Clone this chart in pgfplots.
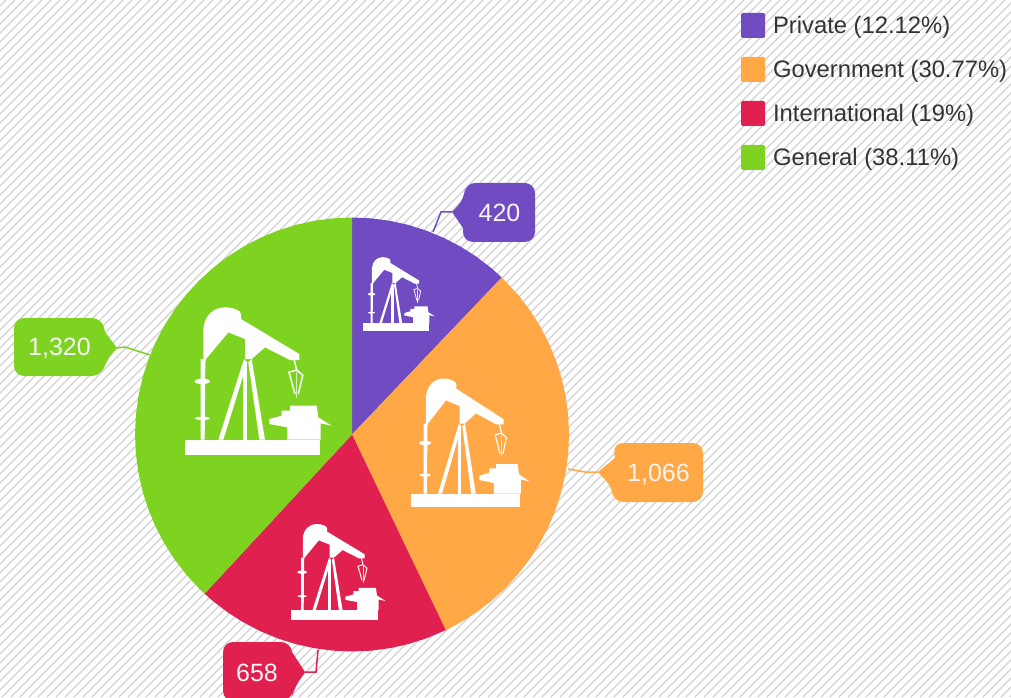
\documentclass[border=0pt]{standalone}
\usepackage{pgfplots}
\pgfplotsset{compat=1.18}
\usepackage{fontspec}
\setmainfont{Liberation Sans}
\definecolor{cPriv}{HTML}{704BC2}
\definecolor{cGov}{HTML}{FFA845}
\definecolor{cInt}{HTML}{E0204F}
\definecolor{cGen}{HTML}{7ED321}
\definecolor{hatch}{HTML}{D0D0D0}
\newcommand{\pump}[4]{%
  \pgfmathsetmacro{\ox}{#1-15*#3}%
  \pgfmathsetmacro{\oy}{#2-164.3*#4}%
  \pgfmathsetmacro{\kx}{#3/3}%
  \pgfmathsetmacro{\ky}{#4/3}%
  \begin{scope}[shift={(\ox,\oy)},xscale=\kx,yscale=\ky]
    \fill[white] (100,215) -- (100,115) .. controls (103,75) and (130,50) .. (165,50)
      .. controls (190,50) and (213,60) .. (213,70) -- (213,85) -- (388,190) -- (388,208)
      -- (360,208) -- (285,170) -- (245,205) -- (225,205) -- (225,145) -- (175,125)
      -- (108,205) -- (105,215) -- cycle;
    \fill[white] (92,205) -- (106,205) -- (104,447) -- (92,447) -- cycle;
    \fill[white] (97,272) ellipse [x radius=23,y radius=8];
    \fill[white] (97,383) ellipse [x radius=22,y radius=5];
    \fill[white] (222,205) -- (145,447) -- (160,447) -- (232,215) -- cycle;
    \fill[white] (219,215) -- (219,447) -- (232,447) -- (232,215) -- cycle;
    \fill[white] (235,215) -- (268,447) -- (285,447) -- (245,205) -- cycle;
    \draw[white,line width=1.5pt*#3] (372,205) -- (380,238);
    \draw[white,line width=1.5pt*#3] (355,245) -- (380,238) -- (400,255);
    \draw[white!90!cGen,line width=1.6pt*#3] (357,245) -- (375,310);
    \draw[white!90!cGen,line width=1.6pt*#3] (398,255) -- (385,310);
    \draw[white!70!cGen,line width=1pt*#3] (380,245) -- (380,322);
    \fill[white] (360,345) -- (440,345) -- (445,380) -- (485,405) -- (452,398) -- (452,447)
      -- (352,447) -- (352,410) -- (298,400) -- (298,385) -- (335,375) -- (335,360) -- (360,360) -- cycle;
    \fill[white] (45,447) rectangle (450,493);
  \end{scope}}
\begin{document}
\begin{tikzpicture}
\path[use as bounding box] (0,0) rectangle (1011pt,697pt);
\begin{scope}
  \clip (0,0) rectangle (1011pt,697pt);
  \foreach \c in {-700,-691,...,1011}
    \draw[hatch,line width=1.3pt] (\c pt,0pt) -- ++(697pt,697pt);
\end{scope}
\begin{axis}[
  at={(0pt,0pt)},anchor=south west,
  width=1011pt,height=697pt,scale only axis,
  xmin=-352,xmax=659,ymin=-262.5,ymax=434.5,
  hide axis,clip=true,
  legend cell align=left,
  legend image code/.code={\path[#1,draw=none,rounded corners=1.5pt] (0pt,-9.5pt) rectangle (24pt,15.5pt);\path (32pt,0pt);},
  legend style={at={(axis cs:389,421.5)},anchor=north west,draw=none,fill=none,
    inner sep=0pt,outer sep=0pt,row sep=18.5pt,
    font=\fontsize{23.8}{26}\selectfont\color[HTML]{333333},
    nodes={inner sep=0pt,outer sep=0pt,text height=15pt,text depth=5pt}},
]
\addplot[fill=cPriv,draw=none,data cs=polar] coordinates {
 (0,0) (90,217) (85,217) (80,217) (75,217) (70,217) (65,217) (60,217) (55,217) (50,217) (46.37,217)} -- cycle;
\addplot[fill=cGov,draw=none,data cs=polar] coordinates {
 (0,0) (46.37,217) (40,217) (35,217) (30,217) (25,217) (20,217) (15,217) (10,217) (5,217) (0,217)
 (-5,217) (-10,217) (-15,217) (-20,217) (-25,217) (-30,217) (-35,217) (-40,217) (-45,217) (-50,217) (-55,217) (-60,217) (-64.4,217)} -- cycle;
\addplot[fill=cInt,draw=none,data cs=polar] coordinates {
 (0,0) (-64.4,217) (-70,217) (-75,217) (-80,217) (-85,217) (-90,217) (-95,217) (-100,217) (-105,217) (-110,217) (-115,217) (-120,217) (-125,217) (-130,217) (-132.8,217)} -- cycle;
\addplot[fill=cGen,draw=none,data cs=polar] coordinates {
 (0,0) (-132.8,217) (-135,217) (-140,217) (-145,217) (-150,217) (-155,217) (-160,217) (-165,217) (-170,217) (-175,217) (-180,217)
 (-185,217) (-190,217) (-195,217) (-200,217) (-205,217) (-210,217) (-215,217) (-220,217) (-225,217) (-230,217) (-235,217) (-240,217) (-245,217) (-250,217) (-255,217) (-260,217) (-265,217) (-270,217)} -- cycle;
\legend{Private (12.12\%),Government (30.77\%),International (19\%),General (38.11\%)}
% leader lines (pixel positions relative to the pie centre)
\addplot[forget plot,cPriv,line width=1.5pt] coordinates {(100,222.5) (89,222.5) (81,202.5)};
\addplot[forget plot,cGov,line width=1.5pt] coordinates {(246,-37.5) (233,-37.5) (216,-34.5)};
\addplot[forget plot,cInt,line width=1.5pt] coordinates {(-47,-237.5) (-36,-237.5) (-34,-215.5)};
\addplot[forget plot,cGen,line width=1.5pt] coordinates {(-235,86.5) (-227,87.5) (-202,79.5)};
\end{axis}
\begin{scope}[shift={(0pt,697pt)},x=1pt,y=-1pt]
  \pump{185}{455}{1}{1}
  \pump{411}{507}{0.81}{0.87}
  \pump{291}{620}{0.645}{0.65}
  \pump{363}{331}{0.49}{0.5}
  % callouts
  \fill[cPriv,rounded corners=10pt] (463,228) -- (463,242) -- (535,242) -- (535,183) -- (465,183) -- (465,198) [sharp corners] -- (452,212) -- cycle;
  \fill[cGen,rounded corners=10pt] (105,332) -- (102,318) -- (14,318) -- (14,376) -- (102,376) -- (105,362) [sharp corners] -- (117,348) -- cycle;
  \fill[cGov,rounded corners=10pt] (615,458) -- (613,443) -- (703,443) -- (703,502) -- (613,502) -- (613,488) [sharp corners] -- (598,472) -- cycle;
  \fill[cInt,rounded corners=10pt] (292,652) -- (291,642) -- (223,642) -- (223,701) -- (291,701) -- (293,690) [sharp corners] -- (305,672) -- cycle;
  \begin{scope}[every node/.style={white!92!gray,inner sep=0pt,font=\fontsize{25}{28}\selectfont}]
    \node at (499.5,213) {420};
    \node at (59.5,348.5) {1,320};
    \node at (658.5,474) {1,066};
    \node at (257,672.5) {658};
  \end{scope}
\end{scope}
\end{tikzpicture}
\end{document}
